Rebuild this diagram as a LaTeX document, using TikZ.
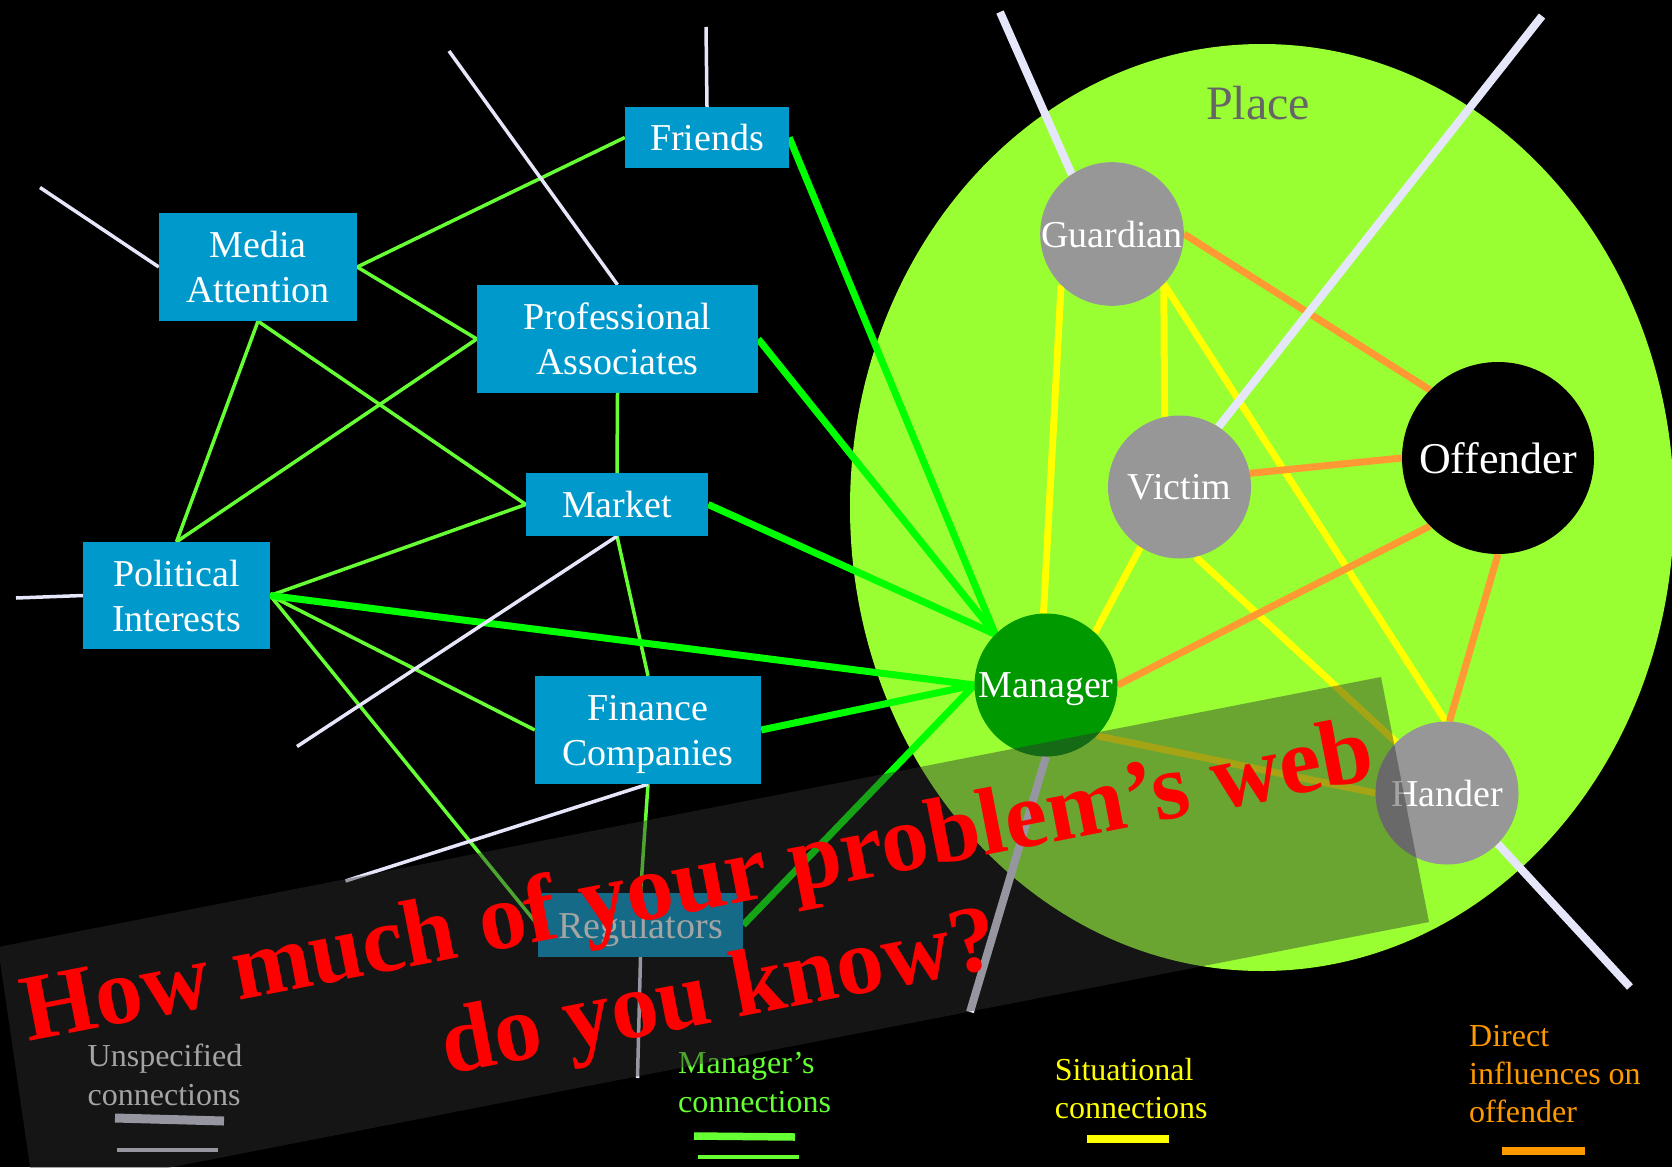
\documentclass[tikz,border=0pt]{standalone}
\usepackage{fontspec}
\setmainfont{Liberation Serif}
\definecolor{boxblue}{HTML}{0099CC}
\definecolor{placegreen}{HTML}{99FF33}
\definecolor{cgrey}{HTML}{979797}
\definecolor{mgreen}{HTML}{009900}
\definecolor{ltgreen}{HTML}{66FF33}
\definecolor{brgreen}{HTML}{00FF00}
\definecolor{ylw}{HTML}{FFFF00}
\definecolor{orng}{HTML}{FF9933}
\definecolor{orngtxt}{HTML}{FF9900}
\definecolor{lav}{HTML}{E6E6FA}
\definecolor{placetxt}{HTML}{666666}
\definecolor{bandc}{RGB}{48,48,48}
\pgfdeclarelayer{back}
\pgfdeclarelayer{lines}
\pgfsetlayers{back,lines,main}
\begin{document}
\begin{tikzpicture}[x=1pt,y=-1pt,
  box/.style={rectangle,fill=boxblue,text=white,inner sep=0pt,align=center,text depth=0pt,font=\fontsize{38}{45}\selectfont},
  circ/.style={circle,inner sep=0pt,minimum size=143pt,text=white,text depth=0pt,font=\fontsize{38}{45}\selectfont},
  gthin/.style={draw=ltgreen,line width=3.5pt},
  gthick/.style={draw=brgreen,line width=7pt},
  ylwline/.style={draw=ylw,line width=7pt},
  orline/.style={draw=orng,line width=7pt},
  lavthin/.style={draw=lav,line width=3.5pt},
  lavthick/.style={draw=lav,line width=8pt},
  legtxt/.style={anchor=base west,inner sep=0pt,font=\fontsize{32}{38}\selectfont},
  redtxt/.style={anchor=base,inner sep=0pt,text=red,rotate=11,font=\bfseries\fontsize{95}{110}\selectfont}]
\useasboundingbox (0,0) rectangle (1672,1167);
\clip (0,0) rectangle (1672,1167);
\begin{pgfonlayer}{back}
\fill[black] (0,0) rectangle (1672,1167);
\fill[placegreen] (1262,507.5) ellipse [x radius=412, y radius=463.5];
\end{pgfonlayer}
\node[anchor=base,inner sep=0pt,text=placetxt,font=\fontsize{48}{54}\selectfont] (place) at (1258,119.5) {Place};
% boxes
\node[box, minimum width=164pt, minimum height=61pt] (fri) at (707,137.5) {Friends};
\node[box, minimum width=198pt, minimum height=108pt] (med) at (258,267) {Media\\Attention};
\node[box, minimum width=281pt, minimum height=108pt] (pro) at (617.5,339) {Professional\\Associates};
\node[box, minimum width=182pt, minimum height=63pt] (mar) at (617,504.5) {Market};
\node[box, minimum width=187pt, minimum height=107pt] (pol) at (176.5,595.5) {Political\\Interests};
\node[box, minimum width=226pt, minimum height=108pt] (fin) at (648,730) {Finance\\Companies};
\node[box, minimum width=205pt, minimum height=64pt] (reg) at (640.5,925) {Regulators};
% circles
\node[circ, fill=cgrey] (gua) at (1112,234) {Guardian};
\node[circ, fill=cgrey] (vic) at (1179.5,487) {Victim};
\node[circ, fill=black, minimum size=192pt, font=\fontsize{44}{50}\selectfont] (off) at (1498,458) {Offender};
\node[circ, fill=mgreen] (man) at (1046,685) {Manager};
\node[circ, fill=cgrey] (han) at (1447,793) {Hander};
% free ends
\coordinate (e1) at (706,27);
\coordinate (e2) at (449,51);
\coordinate (e3) at (40,187.5);
\coordinate (e4) at (16,598);
\coordinate (e5) at (297,746.5);
\coordinate (e6) at (345.5,881);
\coordinate (e7) at (637.5,1078);
\coordinate (e8) at (1000,12);
\coordinate (e9) at (1542,16);
\coordinate (e10) at (970,1012);
\coordinate (e11) at (1630,987);
\begin{pgfonlayer}{lines}
% manager's network, thin
\draw[gthin] (med.east) -- (fri.west);
\draw[gthin] (med.east) -- (pro.west);
\draw[gthin] (med.south) -- (pol.north);
\draw[gthin] (med.south) -- (mar.west);
\draw[gthin] (pro.west) -- (pol.north);
\draw[gthin] (pro.south) -- (mar.north);
\draw[gthin] (mar.west) -- (pol.east);
\draw[gthin] (mar.south) -- (fin.north);
\draw[gthin] (pol.east) -- (fin.west);
\draw[gthin] (pol.east) -- (reg.west);
\draw[gthin] (fin.south) -- (reg.north);
% manager's network, thick
\draw[gthick] (fri.east) -- (man.135);
\draw[gthick] (pro.east) -- (man.135);
\draw[gthick] (mar.east) -- (man.135);
\draw[gthick] (pol.east) -- (man.west);
\draw[gthick] (fin.east) -- (man.west);
\draw[gthick] (reg.east) -- (man.west);
% situational
\draw[ylwline] (gua.225) -- (man.92);
\draw[ylwline] (gua.-44) -- (vic.102);
\draw[ylwline] (gua.-44) -- (han.91);
\draw[ylwline] (vic.237) -- (man.47);
\draw[ylwline] (vic.-77) -- (han.135);
\draw[ylwline] (man.-45) -- (han.west);
% direct influences
\draw[orline] (gua.east) -- (off.135);
\draw[orline] (vic.11) -- (off.west);
\draw[orline] (off.225) -- (man.east);
\draw[orline] (off.south) -- (han.88);
% unspecified
\draw[lavthin] (fri.north) -- (e1);
\draw[lavthin] (pro.north) -- (e2);
\draw[lavthin] (med.west) -- (e3);
\draw[lavthin] (pol.west) -- (e4);
\draw[lavthin] (mar.south) -- (e5);
\draw[lavthin] (fin.south) -- (e6);
\draw[lavthin] (reg.south) -- (e7);
\draw[lavthick] (gua.124) -- (e8);
\draw[lavthick] (vic.57) -- (e9);
\draw[lavthick] (man.south) -- (e10);
\draw[lavthick] (han.-45) -- (e11);
\end{pgfonlayer}
% legend
\node[legtxt,text=white] (l1a) at (87.5,1066.7) {Unspecified};
\node[legtxt,text=white] (l1b) at (87.5,1105) {connections};
\draw[lav,line width=9pt] (115,1118) -- (224,1121);
\draw[lav,line width=4.5pt] (117,1150) -- (218,1150);
\node[legtxt,text=ltgreen] (l2a) at (678,1073) {Manager’s};
\node[legtxt,text=ltgreen] (l2b) at (678,1112) {connections};
\draw[ltgreen,line width=7.5pt] (694,1136) -- (795,1137);
\draw[ltgreen,line width=4pt] (698,1157) -- (799,1157);
\node[legtxt,text=ylw] (l3a) at (1054.6,1080) {Situational};
\node[legtxt,text=ylw] (l3b) at (1054.6,1118) {connections};
\draw[ylw,line width=8pt] (1087,1139) -- (1169,1139);
\node[legtxt,text=orngtxt] (l4a) at (1469,1046) {Direct};
\node[legtxt,text=orngtxt] (l4b) at (1469,1084) {influences on};
\node[legtxt,text=orngtxt] (l4c) at (1469,1122.7) {offender};
\draw[orngtxt,line width=8pt] (1502,1151) -- (1585,1151);
% translucent band
\fill[bandc,fill opacity=0.44] (-2,947) -- (1381,677) -- (1429,922) -- (34,1194) -- cycle;
% question
\node[redtxt] (q1) at (703,910) {How much of your problem’s web};
\node[redtxt] (q2) at (725,1020.4) {do you know?};
\end{tikzpicture}
\end{document}
